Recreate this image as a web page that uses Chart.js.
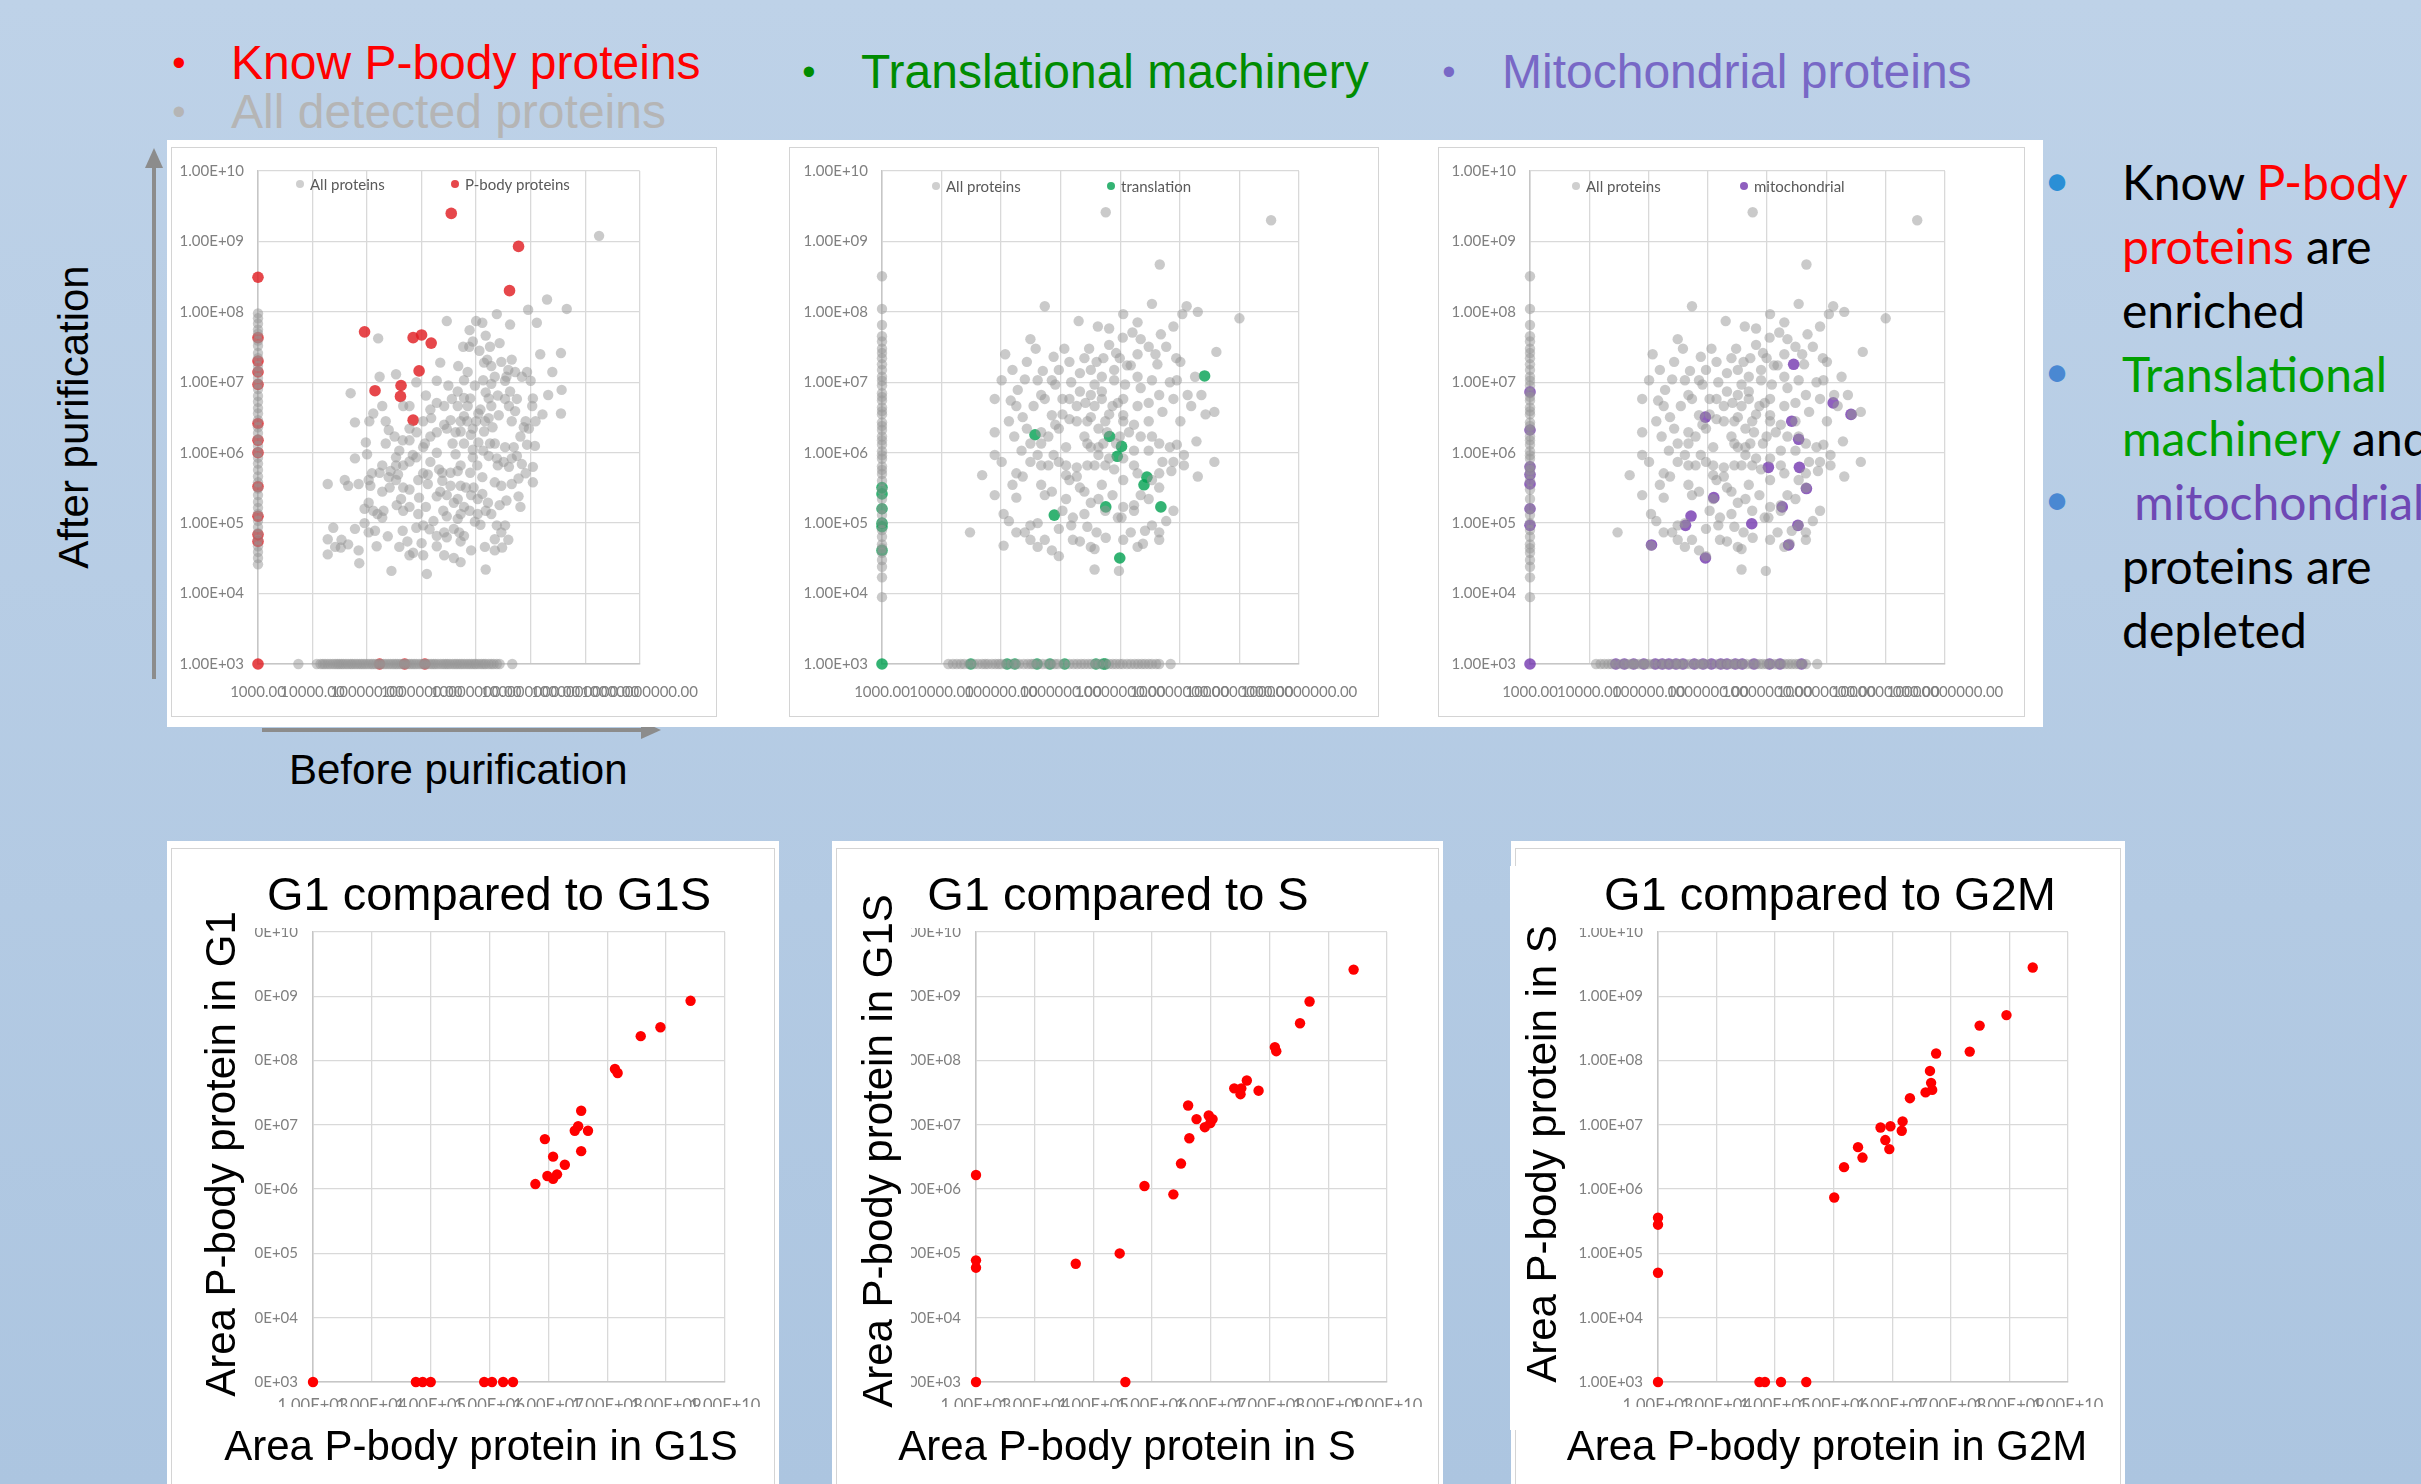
<!DOCTYPE html>
<html><head><meta charset="utf-8">
<script src="https://cdn.jsdelivr.net/npm/chart.js@4.4.1/dist/chart.umd.min.js"></script>
<style>
html,body{margin:0;padding:0;}
body{width:2421px;height:1484px;overflow:hidden;position:relative;background:linear-gradient(#bed2e8,#acc5e0);font-family:'Liberation Sans',Arial,sans-serif;}
.a{position:absolute;}
.white{background:#fff;}
.frame{border:1.5px solid #d4d4d4;box-sizing:border-box;}
.t48{font-size:48px;line-height:48px;white-space:nowrap;}
.bul{font-size:38px;line-height:38px;width:14px;text-align:center;}
.ttl{font-size:47px;line-height:47px;white-space:nowrap;text-align:center;color:#000;}
.axt{font-size:42px;line-height:42px;white-space:nowrap;text-align:center;color:#000;}
.rot{transform:rotate(-90deg);transform-origin:50% 50%;}
</style></head>
<body>
<svg class="a" style="left:0;top:0" width="2421" height="1484">
  <line x1="154" y1="679" x2="154" y2="166" stroke="#8c8c8c" stroke-width="4"/>
  <polygon points="154,148 145,168 163,168" fill="#8c8c8c"/>
  <line x1="262" y1="730" x2="643" y2="730" stroke="#8c8c8c" stroke-width="4"/>
  <polygon points="661,730 641,721 641,739" fill="#8c8c8c"/>
</svg>

<!-- top bullets -->
<div class="a bul" style="left:172px;top:44px;color:#ff0000">•</div>
<div class="a t48" style="left:231px;top:39px;color:#ff0000">Know P-body proteins</div>
<div class="a bul" style="left:172px;top:93px;color:#b5b5b5">•</div>
<div class="a t48" style="left:231px;top:88px;color:#b5b5b5">All detected proteins</div>
<div class="a bul" style="left:802px;top:53px;color:#008c00">•</div>
<div class="a t48" style="left:861px;top:48px;color:#008c00">Translational machinery</div>
<div class="a bul" style="left:1442px;top:53px;color:#7868c6">•</div>
<div class="a t48" style="left:1502px;top:48px;color:#7868c6">Mitochondrial proteins</div>

<!-- top charts backdrop -->
<div class="a white" style="left:167px;top:140px;width:1876px;height:587px"></div>
<div class="a frame" style="left:171px;top:147px;width:546px;height:570px"></div>
<div class="a frame" style="left:789px;top:147px;width:590px;height:570px"></div>
<div class="a frame" style="left:1438px;top:147px;width:587px;height:570px"></div>
<canvas id="c1" class="a" width="546" height="570" style="left:171px;top:147px"></canvas>
<canvas id="c2" class="a" width="590" height="570" style="left:789px;top:147px"></canvas>
<canvas id="c3" class="a" width="587" height="570" style="left:1438px;top:147px"></canvas>

<div class="a axt rot" style="left:-126px;top:396px;width:400px;">After purification</div>
<div class="a axt" style="left:289px;top:749px;">Before purification</div>

<!-- right text -->
<div class="a" style="left:2043px;top:157px;font:44px/44px Lato;width:28px;text-align:center;color:#2a8fd6">•</div>
<div class="a" style="left:2043px;top:348px;font:44px/44px Lato;width:28px;text-align:center;color:#4a88d2">•</div>
<div class="a" style="left:2043px;top:476px;font:44px/44px Lato;width:28px;text-align:center;color:#4a88d2">•</div>
<div class="a" style="left:2122px;top:150px;font-family:Lato;font-size:48px;line-height:64px;white-space:pre;color:#000">Know <span style="color:#ff0000">P-body</span>
<span style="color:#ff0000">proteins</span> are
enriched
<span style="color:#00a000">Translational</span>
<span style="color:#00a000">machinery</span> and
 <span style="color:#6e48b4">mitochondrial</span>
proteins are
depleted</div>

<!-- bottom panels -->
<div class="a white" style="left:167px;top:841px;width:612px;height:643px"></div>
<div class="a white" style="left:832px;top:841px;width:611px;height:643px"></div>
<div class="a white" style="left:1511px;top:841px;width:614px;height:643px"></div>
<div class="a frame" style="left:171px;top:848px;width:604px;height:660px"></div>
<div class="a frame" style="left:836px;top:848px;width:603px;height:660px"></div>
<div class="a frame" style="left:1515px;top:848px;width:606px;height:660px"></div>
<canvas id="c4" class="a" width="606" height="636" style="left:171px;top:848px"></canvas>
<canvas id="c5" class="a" width="603" height="636" style="left:836px;top:848px"></canvas>
<canvas id="c6" class="a" width="606" height="636" style="left:1515px;top:848px"></canvas>

<!-- covers (white boxes behind the big titles) -->
<div class="a white" style="left:225px;top:858px;width:525px;height:70px"></div>
<div class="a white" style="left:195px;top:858px;width:60px;height:622px"></div>
<div class="a white" style="left:195px;top:1407px;width:575px;height:73px"></div>
<div class="a white" style="left:880px;top:858px;width:520px;height:70px"></div>
<div class="a white" style="left:849px;top:858px;width:62px;height:622px"></div>
<div class="a white" style="left:849px;top:1407px;width:583px;height:73px"></div>
<div class="a white" style="left:1525px;top:858px;width:585px;height:70px"></div>
<div class="a white" style="left:1510px;top:866px;width:66px;height:564px"></div>
<div class="a white" style="left:1580px;top:1407px;width:530px;height:73px"></div>

<div class="a ttl" style="left:189px;top:870px;width:600px;">G1 compared to G1S</div>
<div class="a ttl" style="left:818px;top:870px;width:600px;">G1 compared to S</div>
<div class="a ttl" style="left:1530px;top:870px;width:600px;">G1 compared to G2M</div>
<div class="a axt rot" style="left:-79px;top:1133px;width:600px;">Area P-body protein in G1</div>
<div class="a axt rot" style="left:578px;top:1130px;width:600px;">Area P-body protein in G1S</div>
<div class="a axt rot" style="left:1242px;top:1133px;width:600px;">Area P-body protein in S</div>
<div class="a axt" style="left:181px;top:1425px;width:600px;">Area P-body protein in G1S</div>
<div class="a axt" style="left:827px;top:1425px;width:600px;">Area P-body protein in S</div>
<div class="a axt" style="left:1527px;top:1425px;width:600px;">Area P-body protein in G2M</div>

<script>
// ---------- tick values / labels ----------
const decadeVals = [1e3, 1e4, 1e5, 1e6, 1e7, 1e8, 1e9, 1e10];
const topXLabels = ['1000.00','10000.00','100000.00','1000000.00','10000000.00','100000000.00','1000000000.00','10000000000.00'];
const sciLabels = ['1.00E+03','1.00E+04','1.00E+05','1.00E+06','1.00E+07','1.00E+08','1.00E+09','1.00E+10'];
const floorValue = 1e3; // value used for "not detected"

// ---------- panel 1: P-body (before vs after purification) ----------
const c1AllCloud = [[1.8e9,1.2e9],[2e8,1.5e8],[4.6e8,1.1e8],[2.4e7,9.3e7],[9e7,1.07e8],[2.9e6,7.4e7],[1e7,7.4e7],[1.3e7,7e7],[4.2e7,6.6e7],[1.3e8,7e7],[1.6e5,4.2e7],[7.6e6,5.5e7],[1.5e7,4.6e7],[1.8e7,3.2e7],[2.7e7,3.6e7],[5.8e6,3.2e7],[3.6e8,2.6e7],[1.5e8,2.5e7],[2.2e6,1.9e7],[4.7e6,1.7e7],[7e6,1.4e7],[1.4e7,1.9e7],[1.9e7,1.7e7],[3.9e7,1.5e7],[5.2e7,1.4e7],[8.6e7,1.4e7],[2.5e8,1.4e7],[3.4e5,1.3e7],[1.7e5,1.2e7],[8e5,1e7],[1.9e6,1.05e7],[3.1e6,9e6],[9.5e6,9e6],[1.9e7,9.5e6],[3.4e7,1.05e7],[1e8,1.05e7],[5e4,7e6],[3.7e8,7.8e6],[2.1e8,6.6e6],[1.1e8,5.9e6],[2.5e7,6.5e6],[1.5e7,7.2e6],[6e6,6e6],[1.2e6,6.5e6],[6e5,4.6e6],[7e6,4.6e6],[1.2e7,4.1e6],[4e7,4.6e6],[5.2e7,3.9e6],[1.3e5,3.6e6],[1.1e5,2.8e6],[6e4,2.7e6],[1.5e6,3.1e6],[3.4e6,2.9e6],[6e6,3.3e6],[1.7e7,3.1e6],[3.6e8,3.6e6],[4.5e7,2.8e6],[7.5e7,2.3e6],[2.5e5,2.1e6],[6e5,2.2e6],[2.9e6,2.2e6],[5.2e6,2e6],[8e6,1.8e6],[1.4e7,2e6],[9.5e4,1.4e6],[4.5e5,1.5e6],[1.15e6,1.35e6],[3.7e6,1.35e6],[1.1e7,1.4e6],[2.2e7,1.35e6],[3.4e7,1.2e6],[8.6e7,1.3e6],[1.2e8,1.25e6],[1e5,9.5e5],[3.4e5,8.6e5],[8e5,8.6e5],[1.9e6,1e6],[4.2e6,9.5e5],[8.7e6,8.6e5],[1.7e7,9e5],[5.6e7,9e5],[3.4e5,6.6e5],[6e5,7.5e5],[5.2e6,6.6e5],[2.5e7,6.6e5],[4e7,6.3e5],[1.1e8,6.3e5],[1.7e5,5.2e5],[2.5e5,4.5e5],[3.7e5,4.9e5],[1.3e6,4.9e5],[2.4e6,5.2e5],[4.6e6,5.5e5],[7.8e6,5.2e5],[1.3e7,4.5e5],[1.9e4,3.6e5],[4.5e4,3.4e5],[7e4,3.6e5],[1.15e5,3.4e5],[6e5,3e5],[1.3e6,3.6e5],[2.4e6,4e5],[5.2e6,3.4e5],[9e6,3.2e5],[2.2e7,3.8e5],[2.9e7,3.4e5],[4.5e7,3.6e5],[1.1e8,3.8e5],[4.2e5,2.2e5],[9e5,2.3e5],[1.9e6,2.4e5],[4.6e6,2.2e5],[1.3e7,2.6e5],[6e7,2.4e5],[3.6e7,2.1e5],[9e4,1.6e5],[1.3e5,1.5e5],[2e5,1.5e5],[3.5e5,1.8e5],[1.2e6,1.7e5],[2.5e6,1.5e5],[6e6,1.7e5],[1.5e7,1.5e5],[2.7e7,1.8e5],[6.5e7,1.7e5],[2.9e6,1.25e5],[4.6e6,1.15e5],[9.5e6,1.05e5],[1.2e7,9.5e4],[9e4,1e5],[1.4e5,7.8e4],[2.4e5,6.5e4],[4.5e5,7.8e4],[8e5,8.6e4],[1.4e6,8.2e4],[2.4e4,8.6e4],[1.9e4,5.9e4],[3.3e4,4.5e4],[4.5e4,5e4],[7e4,4.1e4],[1.5e5,4.7e4],[5.5e5,5.5e4],[1e6,5.2e4],[1.9e6,4.7e4],[2.9e6,6.3e4],[5.2e6,5.5e4],[2.2e7,5.9e4],[3e7,4.5e4],[1.9e4,3.6e4],[7.2e4,2.7e4],[2.8e5,2.1e4],[1.25e6,1.9e4],[5.2e6,2.8e4],[1.5e7,2.2e4],[7e5,3.8e4],[7.8e6,5.9e6],[1e7,2.8e6],[4.6e6,4.6e6],[6e6,1.35e6],[1.05e7,6.6e5],[3.4e6,5.2e5],[1.7e7,5.9e6],[8.7e6,1.1e6],[1.1e7,3.6e6],[5.2e6,2.8e6],
[7.5e6,3.2e7],[8.7e6,3.8e7],[1.15e7,2.8e7],[1.6e7,2.1e7],[2.9e7,1.95e7],[3.6e7,1.2e7],[4.5e7,2.1e7],[6.9e7,1.2e7],[3.4e7,5.8e6],[4.2e7,7.4e6],[1.9e7,4.6e6],[2.6e7,3.4e6],[1.45e7,2.8e6],[2e7,2.3e6],[8.7e6,2.2e6],[6.9e6,2.8e6],[4.2e6,1.95e6],[2.6e6,2.5e6],[1.9e6,1.95e6],[1.45e6,1.7e6],[1.07e6,1.2e6],[6.9e5,9.3e5],[3.9e5,1.07e6],[4.6e5,6.6e5],[2.7e5,5.5e5],[1.9e5,6.6e5],[1.23e5,5.1e5],[1.07e5,1.95e5],[1.55e5,1.35e5],[1.9e5,1.2e5],[4.6e5,1.5e5],[6e5,1.7e5],[8.7e5,1.35e5],[1.07e6,9.3e4],[1.65e6,1.07e5],[2.6e6,7.4e4],[3.9e6,8.3e4],[5.2e6,1.35e5],[7.6e6,1.5e5],[1.07e7,1.35e5],[1.9e7,1.35e5],[2.4e7,9.3e4],[3.4e7,9.3e4],[2.9e7,7.4e4],[3.9e6,1.95e5],[2.9e6,2.5e5],[2.2e6,2.8e5],[8.1e6,2.5e5],[1.07e7,2.2e5],[1.65e7,1.95e5],[6.5e6,3.2e5],[3.4e6,3.4e5],[2.1e6,5.8e5],[1.45e6,7.4e5],[1.07e6,5.1e5],[8.7e5,4.1e5],[4.6e5,3.2e5],[3.4e5,4.1e5],[2.6e5,3.2e5],[1.9e5,2.8e5],[1.07e5,7.4e4],[6e4,8.3e4],[3.4e4,5.8e4],[2.6e4,4.6e4],[3.9e5,4.6e4],[6e5,3.5e4],[1.07e6,3.5e4],[2.6e6,3.5e4],[3.9e6,3.2e4],[8.1e6,4.1e4],[1.45e7,4.6e4],[2.2e7,4.1e4],[3.9e7,5.8e4],[4.9e6,7.4e4],[6e6,6.6e4],[1.9e6,6.6e4],[1.35e7,1.07e6],[1.8e7,1.35e6],[2.4e7,8.3e5],[3.2e7,7.4e5],[4.5e7,8.3e5],[6.9e7,6.9e5],[8.1e7,5.1e5],[6e7,4.3e5],[4.9e7,1.2e6],[6.5e7,1.7e6],[9.3e7,2.2e6],[1.23e8,2.8e6],[1.65e8,3.5e6],[1.07e8,4.6e6],[8.1e7,2.8e6],[5.6e7,5.8e6],[2.2e7,1.2e7],[1.35e7,1.07e7],[6e6,1.07e7],[4.6e6,7.4e6],[3.6e6,5.8e6],[2.6e6,4.6e6],[1.9e6,5.1e6],[1.45e6,4.1e6],[1.07e6,2.8e6],[8.1e5,1.95e6],[6e5,1.5e6],[3.2e5,1.7e6],[2.2e5,2.8e6],[1.9e5,4.6e6],[4.6e5,4.6e6],[2.2e5,1.35e6],[6e4,8.3e5],[3.9e4,4.1e5],[1.07e5,4.1e5]];
const c1AllNotBefore = [9.5e7,8.1e7,6.8e7,5.6e7,4.9e7,3.9e7,3.3e7,2.6e7,2.2e7,1.7e7,1.45e7,1.15e7,9.6e6,8e6,6.4e6,5.3e6,4.3e6,3.6e6,2.9e6,2.3e6,1.9e6,1.55e6,1.25e6,1.02e6,8.5e5,7e5,5.7e5,4.6e5,3.8e5,3.1e5,2.5e5,2e5,1.65e5,1.35e5,1.08e5,8.8e4,7.2e4,5.8e4,4.7e4,3.9e4,3.2e4,2.6e4];
const c1AllNotAfter = [5.5e3,1.2e4,1.4e4,1.55e4,1.7e4,1.9e4,2.1e4,2.35e4,2.6e4,2.85e4,3.1e4,3.4e4,3.7e4,4.1e4,4.5e4,5e4,5.4e4,6e4,6.6e4,7.3e4,8e4,8.8e4,9.7e4,1.08e5,1.2e5,1.3e5,1.45e5,1.6e5,1.8e5,2e5,2.2e5,2.45e5,2.7e5,3e5,3.3e5,3.6e5,4e5,4.4e5,4.9e5,5.4e5,6e5,6.6e5,7.3e5,8e5,9e5,1e6,1.1e6,1.2e6,1.35e6,1.5e6,1.65e6,1.8e6,2e6,2.25e6,2.5e6,2.75e6,3e6,3.3e6,3.7e6,4.1e6,4.5e6,5e6,5.5e6,6.1e6,6.8e6,7.5e6,8.3e6,9.2e6,1e7,1.12e7,1.25e7,1.38e7,1.5e7,1.7e7,1.9e7,2.1e7,2.4e7,2.7e7,4.6e7];
const c1PbodyCloud = [[3.5e6,2.5e9],[6e7,8.5e8],[4.1e7,2e8],[9e4,5.2e7],[7e5,4.3e7],[1e6,4.7e7],[1.5e6,3.6e7],[9e5,1.45e7],[1.4e5,7.6e6],[4.2e5,9e6],[4.1e5,6.3e6],[7e5,2.9e6]];
const c1PbodyNotBefore = [3.1e8,4.3e7,2e7,1.4e7,9.3e6,2.6e6,1.5e6,1e6,3.3e5,1.25e5,6.9e4,5.5e4,1e3];
const c1PbodyNotAfter = [1.7e5,4.9e5,1.15e6];

// ---------- panels 2 & 3: all proteins ----------
const c23AllCloud = [[5.7e6,2.6e9],[3.4e9,2e9],[4.6e7,4.7e8],[5.4e5,1.2e8],[3.4e7,1.3e8],[1.3e8,1.2e8],[2e8,1e8],[1e9,8.1e7],[1.1e8,9.3e7],[2e6,7.4e7],[1.95e7,7.1e7],[4.2e6,6.2e7],[6.5e6,5.8e7],[7.8e7,6.2e7],[1.1e7,4.3e7],[4.8e7,4.8e7],[3.1e5,4.1e7],[1.17e5,2.5e7],[3.8e5,3e7],[7.6e5,2.3e7],[1.15e6,3e7],[3e6,3e7],[6.5e6,3.4e7],[8.5e6,2.6e7],[1.95e7,2.5e7],[3e7,3.2e7],[4.1e8,2.7e7],[8.7e7,2.2e7],[4e6,1.95e7],[1.3e7,1.74e7],[4.2e7,1.8e7],[5e5,1.45e7],[2.1e6,1.35e7],[2.5e5,1.1e7],[4.1e5,1.07e7],[8.1e5,9.3e6],[1.5e6,1e7],[3.7e6,9.3e6],[7.9e6,1.07e7],[1.2e7,9.3e6],[2.2e7,8.3e6],[3.4e7,1.07e7],[6.8e7,1e7],[8.9e7,1.07e7],[1.35e8,6.6e6],[1.45e5,5.5e6],[1.9e5,7.8e6],[4.7e5,6.6e6],[1.07e6,5.8e6],[2.6e6,5.1e6],[4.9e6,5.8e6],[9.1e6,5.1e6],[1.95e7,4.6e6],[5.1e7,3.8e6],[2.7e8,3.5e6],[3.8e8,3.8e6],[2.3e5,3.2e6],[7.1e5,3.4e6],[1.4e6,3e6],[3.2e6,3.2e6],[5.6e6,2.8e6],[1.12e7,3.4e6],[3e7,2.8e6],[7.8e4,1.95e6],[1.66e5,1.7e6],[4.7e5,1.95e6],[9.3e5,2.2e6],[2.5e6,1.7e6],[1.4e7,1.95e6],[3.4e7,1.7e6],[2.2e5,1.07e6],[7.6e5,9.3e5],[1.23e6,1.2e6],[3.2e6,1.2e6],[5.2e6,1.35e6],[1.7e7,1.07e6],[6.8e7,1.2e6],[8.9e7,1.3e6],[1.9e8,1.45e6],[4.8e4,4.8e5],[1.8e5,5.1e5],[4.7e5,6.6e5],[9.3e5,7.4e5],[1.86e6,6.2e5],[3.7e6,6.6e5],[7.9e6,5.8e5],[1.7e7,6.6e5],[4.5e7,5.1e5],[7.2e7,5.5e5],[1.17e8,6.6e5],[2e8,4.6e5],[3.8e8,7.4e5],[4.7e5,3.5e5],[1.4e6,4.1e5],[2.1e6,3.2e5],[4.9e6,3.5e5],[1.12e7,4.1e5],[4.5e7,3.2e5],[1.8e5,2.3e5],[5.4e5,2.5e5],[1.23e6,2.2e5],[4.3e6,2.2e5],[3e7,2.2e5],[1.7e7,1.8e5],[1.35e5,1.07e5],[3.1e5,9.3e4],[4.1e5,1e5],[9.3e5,8.3e4],[1.5e6,9.3e4],[2.8e6,8.9e4],[4e6,7.4e4],[9.1e6,1.2e5],[1.5e7,7.4e4],[2.6e7,7.8e4],[3.4e7,9.3e4],[4.5e7,7.4e4],[3e4,7.4e4],[1.1e5,4.8e4],[2.5e5,7.4e4],[4.1e5,4.6e4],[7.1e5,4.1e4],[2.1e6,5.5e4],[5.7e6,6.2e4],[2.4e7,5.1e4],[9.3e5,3.4e4],[3.7e6,4.3e4],[3.7e6,2.2e4],[9.5e6,2.1e4],[1.05e7,1.2e5],[3.7e6,4.6e6],[6.5e6,3.5e6],[1.86e6,2.8e6],[9.8e6,1.7e6],[4.3e6,9.3e5],[6.5e6,8.3e5],[2.8e6,6.6e5],[1.23e6,4.8e5],[7.9e6,1.5e7],[4.9e6,1.2e7],
[1.12e7,9.3e7],[1.6e7,5.1e7],[2.2e7,4.1e7],[3.9e7,2.5e7],[5.9e7,3.2e7],[1.02e8,1.95e7],[1.8e8,1.2e7],[2.3e8,6.6e6],[1.55e8,4.6e6],[1.02e8,2.8e6],[7.8e7,5.8e6],[4.5e7,6.6e6],[3e7,5.1e6],[1.95e7,1.2e7],[1.5e7,1.74e7],[9.8e6,2.2e7],[5.2e6,2.2e7],[3.2e6,1.5e7],[2.5e6,2.2e7],[1.4e6,1.95e7],[9.3e5,1.5e7],[7.1e5,1.07e7],[5.4e5,5.8e6],[3.5e5,4.6e6],[2.7e5,2.2e6],[3.1e5,1.35e6],[4.1e5,9.3e5],[6.2e5,6.6e5],[1.23e6,6.6e5],[1.86e6,4.6e5],[2.5e6,2.8e5],[3.2e6,1.95e5],[5.6e6,1.5e5],[7.4e6,2.5e5],[1.12e7,1.7e5],[1.7e7,1.5e5],[2.2e7,2.5e5],[3.4e7,4.1e5],[5.1e7,7.4e5],[7.8e7,7.4e5],[1.17e8,9.3e5],[4.5e7,1.35e6],[3e7,1.07e6],[2.2e7,1.7e6],[1.7e7,2.5e6],[1.12e7,2.8e6],[8.5e6,1.35e6],[6e6,1.95e6],[4.3e6,2.2e6],[2.8e6,2.8e6],[1.86e6,4.6e6],[1.4e6,5.8e6],[1.07e6,3.5e6],[8.1e5,2.5e6],[6.2e5,1.7e6],[4.7e5,1.35e6],[3.1e5,7.4e5],[2.3e5,4.6e5],[1.55e5,3.5e5],[1.02e5,7.4e5],[7.8e4,9.3e5],[1.35e5,2.8e6],[1.8e5,4.6e6],[2.7e5,1.95e7],[1.55e5,1.5e7],[1.02e5,1.07e7],[7.8e4,5.8e6],[7.1e5,2.8e5],[1.07e6,1.5e5],[1.6e6,1.2e5],[2.5e6,1.35e5],[3.2e6,4.6e4],[1.6e6,5.8e4],[5.4e5,5.8e4],[3.1e5,5.8e4],[1.8e5,7.4e4],[1.1e5,1.35e5],[7.8e4,2.5e5],[1.12e7,5.8e4],[1.95e7,4.6e4],[4.5e7,5.8e4],[5.9e7,1.07e5],[7.8e7,1.5e5],[5.6e6,6.6e5],[1.12e7,8.3e5],[1.95e7,5.1e5],[4.3e6,1.2e6],[2.8e6,1.35e6],[2.1e6,7.4e6],[4.9e6,7.4e6],[1.12e7,5.8e6],[7.4e6,4.6e6],[3.2e6,6.6e6]];
const c23AllNotBefore = [3.2e8,1.1e8,6.5e7,4.5e7,3.8e7,3e7,2.6e7,2.2e7,1.8e7,1.5e7,1.2e7,1.05e7,9e6,7e6,6.2e6,5.5e6,4.4e6,3.9e6,3.5e6,2.7e6,2.4e6,2.1e6,1.7e6,1.5e6,1.3e6,1.05e6,9.2e5,8.2e5,6.4e5,5.7e5,5e5,4e5,3e5,2.2e5,1.6e5,1.3e5,1e5,8e4,6.4e4,5e4,4.4e4,3.8e4,3e4,2.4e4,1.7e4,8.9e3];
const c23AllNotAfter = [1.3e4,1.55e4,1.8e4,2.1e4,2.4e4,2.9e4,3.5e4,4.1e4,4.8e4,5.4e4,6e4,7e4,8e4,9e4,1e5,1.2e5,1.5e5,1.75e5,2e5,2.4e5,2.8e5,3.2e5,3.5e5,4.2e5,5e5,6e5,7e5,8e5,9e5,1.1e6,1.4e6,1.65e6,1.9e6,2.2e6,2.5e6,2.9e6,3.3e6,3.9e6,4.5e6,5.5e6,6.5e6,7.5e6,8.5e6,9.8e6,1.1e7,1.3e7,1.5e7,1.75e7,2e7,2.3e7,2.6e7,3e7,3.4e7,4e7,4.5e7,7e7];

// ---------- panel 2: translation ----------
const c2TransCloud = [[3.7e5,1.8e6],[6.6e6,1.7e6],[1.05e7,1.23e6],[8.9e6,8.9e5],[2.8e7,4.5e5],[2.5e7,3.5e5],[2.6e8,1.23e7],[7.8e5,1.3e5],[5.7e6,1.7e5],[4.8e7,1.7e5],[9.8e6,3.2e4]];
const c2TransNotBefore = [3.2e5,2.6e5,1.6e5,1e5,8.9e4,4.1e4,1e3];
const c2TransNotAfter = [3.1e4,1.26e5,1.7e5,4e5,6.6e5,1.17e6,3.9e6,5.2e6,5.6e6];

// ---------- panel 3: mitochondrial ----------
const c3MitoCloud = [[2.8e7,1.8e7],[1.3e8,5.1e6],[2.6e8,3.5e6],[9.1e5,3.2e6],[2.6e7,2.8e6],[3.4e7,1.55e6],[1.05e7,6.2e5],[3.5e7,6.2e5],[4.6e7,3.1e5],[1.26e6,2.3e5],[1.8e7,1.7e5],[5.2e5,1.26e5],[4.2e5,9.3e4],[5.5e6,9.8e4],[3.3e7,9.3e4],[1.12e5,4.9e4],[2.3e7,4.9e4],[9.1e5,3.2e4]];
const c3MitoNotBefore = [7.3e6,2.1e6,6.3e5,4.9e5,3.6e5,1.6e5,9.3e4,1e3];
const c3MitoNotAfter = [2.8e4,3.9e4,5.6e4,8.3e4,1.3e5,1.7e5,2.2e5,2.9e5,3.8e5,5.9e5,8.3e5,1.15e6,1.65e6,2.1e6,2.9e6,3.8e6,6e6,1.1e7,1.65e7,3.8e7];

// ---------- bottom panels: P-body protein areas ----------
const g1VsG1S = [[1e3,1e3],[5.6e4,1e3],[7.3e4,1e3],[1e5,1e3],[8.1e5,1e3],[1.1e6,1e3],[1.7e6,1e3],[2.5e6,1e3],[6e6,1.2e6],[8.7e6,6e6],[1.2e7,3.2e6],[9.6e6,1.6e6],[1.2e7,1.45e6],[1.4e7,1.7e6],[1.9e7,2.4e6],[2.8e7,8.1e6],[3.2e7,9.5e6],[3.6e7,1.66e7],[3.6e7,3.9e6],[4.7e7,8.1e6],[1.35e8,7.4e7],[1.5e8,6.4e7],[3.7e8,2.4e8],[8e8,3.3e8],[2.6e9,8.5e8]];
const g1VsS = [[1e3,1.66e6],[1e3,7.8e4],[1e3,6e4],[1e3,1e3],[5e4,6.9e4],[2.8e5,1e5],[3.5e5,1e3],[7.4e5,1.12e6],[2.3e6,8.3e5],[3.1e6,2.5e6],[4.3e6,6.2e6],[4.1e6,2e7],[5.7e6,1.23e7],[7.9e6,9.2e6],[9.2e6,1.4e7],[1.07e7,1.23e7],[9.8e6,1.07e7],[2.5e7,3.7e7],[3.2e7,3e7],[3.3e7,3.7e7],[4.1e7,4.9e7],[6.5e7,3.4e7],[1.23e8,1.62e8],[1.3e8,1.4e8],[3.3e8,3.8e8],[4.8e8,8.3e8],[2.7e9,2.6e9]];
const g1VsG2M = [[1e3,3.6e5],[1e3,2.8e5],[1e3,5e4],[1e3,1e3],[5.4e4,1e3],[6.7e4,1e3],[1.26e5,1e3],[3.4e5,1e3],[1.02e6,7.4e5],[1.5e6,2.2e6],[2.6e6,4.5e6],[3.1e6,3.1e6],[6.3e6,9.1e6],[7.6e6,5.8e6],[8.9e6,4.2e6],[9.3e6,9.5e6],[1.45e7,8.1e6],[1.5e7,1.13e7],[2e7,2.6e7],[3.7e7,3.2e7],[4.4e7,6.9e7],[4.6e7,4.5e7],[4.8e7,3.5e7],[5.6e7,1.29e8],[2.1e8,1.38e8],[3.1e8,3.5e8],[8.9e8,5.1e8],[2.5e9,2.8e9]];

// ---------- helpers ----------
const pairs = arr => arr.map(([x, y]) => ({ x, y }));
const colX = ys => ys.map(y => ({ x: floorValue, y }));
const rowY = xs => xs.map(x => ({ x, y: floorValue }));

Chart.defaults.font.family = 'Lato';

const inLegend = {
  id: 'inLegend',
  afterDraw(chart, args, opts) {
    if (!opts || !opts.items) return;
    const { ctx, chartArea } = chart;
    ctx.save();
    ctx.font = '15px Lato';
    ctx.textBaseline = 'middle';
    ctx.textAlign = 'left';
    opts.items.forEach((dx, i) => {
      const ds = chart.data.datasets[i];
      const x = chartArea.left + dx, y = chartArea.top + opts.dy;
      ctx.fillStyle = ds.legendColor || ds.backgroundColor;
      ctx.beginPath(); ctx.arc(x, y, 4, 0, Math.PI * 2); ctx.fill();
      ctx.fillStyle = '#595959';
      ctx.fillText(ds.label, x + 10, y + 1);
    });
    ctx.restore();
  }
};
Chart.register(inLegend);

function axis(dir, labels, size, pad, fs) {
  return {
    type: 'logarithmic', position: dir === 'x' ? 'bottom' : 'left',
    min: decadeVals[0], max: decadeVals[decadeVals.length - 1],
    afterBuildTicks: s => { s.ticks = decadeVals.map(v => ({ value: v })); },
    afterFit: s => { if (dir === 'x') s.height = size; else s.width = size; },
    ticks: { autoSkip: false, maxRotation: 0, minRotation: 0, padding: pad, color: '#808080',
             font: { size: fs || 15 }, callback: (v, i) => labels[i] },
    grid: { color: '#d9d9d9', lineWidth: 1.3, drawTicks: false },
    border: { color: '#c6c6c6', width: 1.5 }
  };
}

function ds(label, data, color, r, legendColor) {
  return { label, data, backgroundColor: color, legendColor, pointRadius: r, pointHoverRadius: r,
           pointBorderWidth: 0, borderWidth: 0, clip: false };
}

function scatterChart(id, datasets, g, xLabels, legend) {
  return new Chart(document.getElementById(id), {
    type: 'scatter',
    data: { datasets },
    options: {
      responsive: false, animation: false, events: [],
      layout: { padding: { left: 0, top: g.pt, right: g.pr, bottom: 0 } },
      plugins: { legend: { display: false }, tooltip: { enabled: false }, inLegend: legend || {} },
      scales: { x: axis('x', xLabels, g.xh, g.xp, g.xfs), y: axis('y', sciLabels, g.yw, g.yp) }
    }
  });
}

const grayFill = 'rgba(150,150,150,0.5)';
const topGeo = (yw, pr) => ({ pt: 24, pr, yw, xh: 53, yp: 14, xp: 19 });

scatterChart('c1', [
  ds('All proteins', [...pairs(c1AllCloud), ...colX(c1AllNotBefore), ...rowY(c1AllNotAfter)], grayFill, 5.2, '#cfcfcf'),
  ds('P-body proteins', [...pairs(c1PbodyCloud), ...colX(c1PbodyNotBefore), ...rowY(c1PbodyNotAfter)], 'rgba(225,30,35,0.82)', 5.8)
], topGeo(87, 61), topXLabels, { items: [42, 197], dy: 13 });

scatterChart('c2', [
  ds('All proteins', [...pairs(c23AllCloud), ...colX(c23AllNotBefore), ...rowY(c23AllNotAfter)], grayFill, 5.2, '#cfcfcf'),
  ds('translation', [...pairs(c2TransCloud), ...colX(c2TransNotBefore), ...rowY(c2TransNotAfter)], 'rgba(0,160,80,0.8)', 5.8)
], topGeo(93, 80), topXLabels, { items: [54, 229], dy: 15 });

scatterChart('c3', [
  ds('All proteins', [...pairs(c23AllCloud), ...colX(c23AllNotBefore), ...rowY(c23AllNotAfter)], grayFill, 5.2, '#cfcfcf'),
  ds('mitochondrial', [...pairs(c3MitoCloud), ...colX(c3MitoNotBefore), ...rowY(c3MitoNotAfter)], 'rgba(115,55,175,0.8)', 5.8)
], topGeo(92, 80), topXLabels, { items: [46, 214], dy: 15 });

const botGeo = (yw, pr) => ({ pt: 84, pr, yw, xh: 102, yp: 15, xp: 14, xfs: 16.5 });
scatterChart('c4', [ds('P-body', pairs(g1VsG1S), '#ff0000', 5.2)], botGeo(142, 52), sciLabels);
scatterChart('c5', [ds('P-body', pairs(g1VsS), '#ff0000', 5.2)], botGeo(140, 52), sciLabels);
scatterChart('c6', [ds('P-body', pairs(g1VsG2M), '#ff0000', 5.2)], botGeo(143, 53), sciLabels);
</script>
</body></html>
